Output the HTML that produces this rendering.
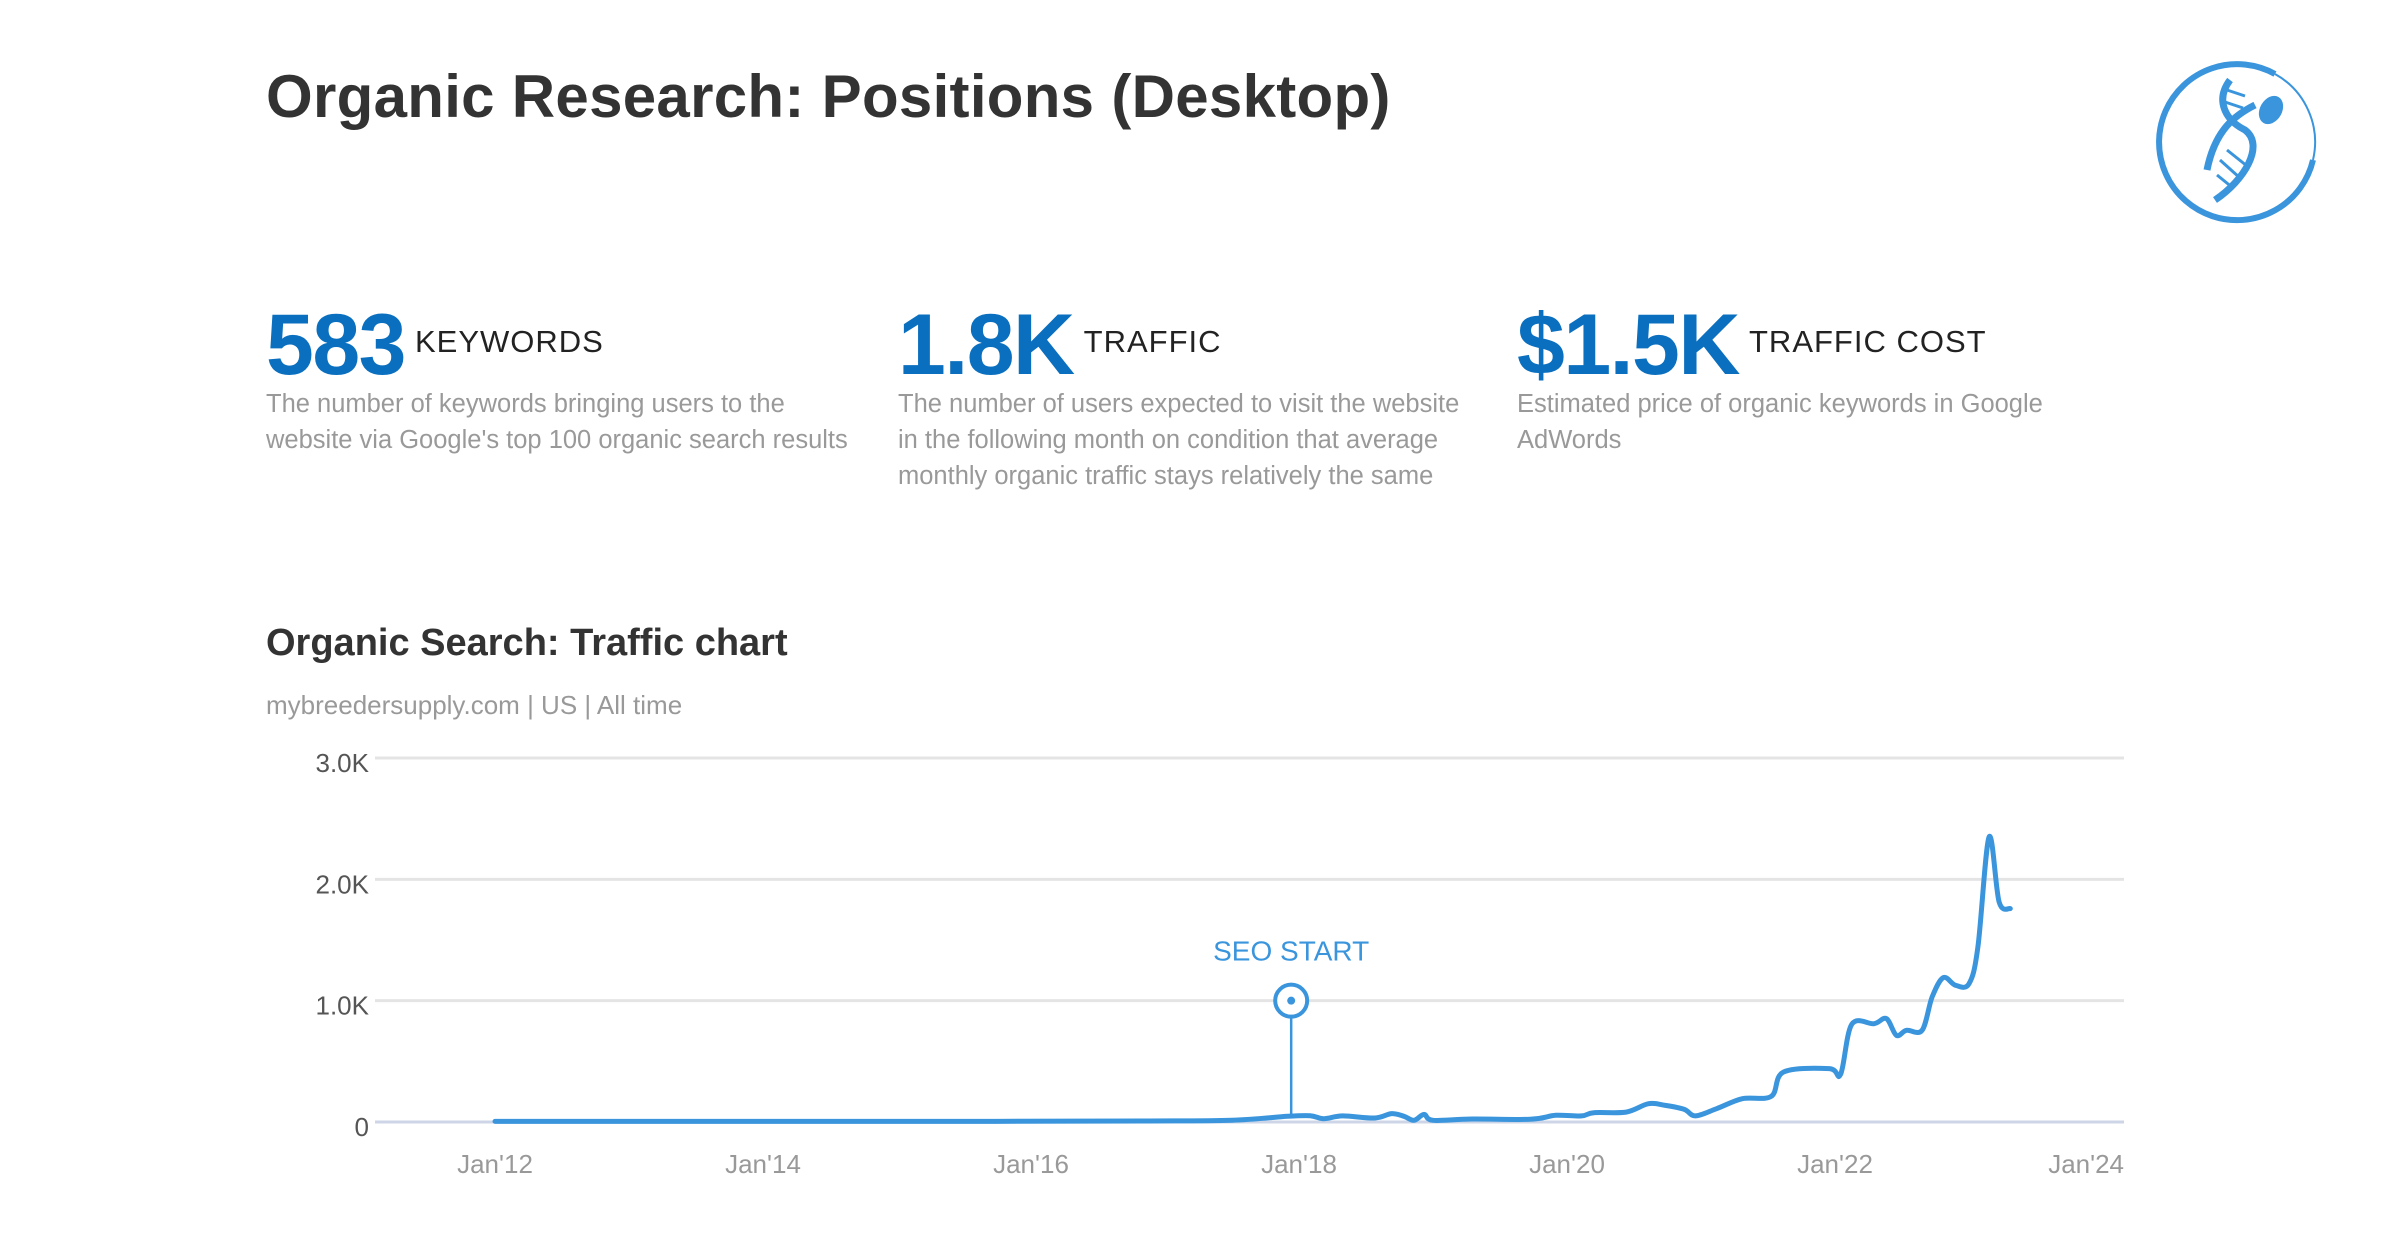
<!DOCTYPE html>
<html><head><meta charset="utf-8">
<style>
html,body{margin:0;padding:0;background:#fff;}
body{width:2400px;height:1260px;position:relative;overflow:hidden;font-family:"Liberation Sans",sans-serif;}
.abs{position:absolute;white-space:nowrap;}
.title{left:266px;top:62px;font-size:60px;font-weight:bold;color:#333;letter-spacing:0.3px;}
.num{font-size:86px;font-weight:bold;color:#0a6fbf;letter-spacing:-1.5px;}
.lab{font-size:31px;color:#222;letter-spacing:1px;margin-left:10px;position:relative;top:-22px;}
.kpi{top:296px;}
.desc{font-size:25.5px;color:#999;line-height:36px;top:386px;}
.sec{left:266px;top:622px;font-size:38px;font-weight:bold;color:#333;}
.sub{left:266px;top:690px;font-size:26px;color:#999;}
</style></head>
<body>
<div class="abs title">Organic Research: Positions (Desktop)</div>
<svg class="abs" style="left:2155px;top:60px" width="170" height="170" viewBox="0 0 170 170">
<path d="M120 14 A78 78 0 1 0 158 100" fill="none" stroke="#3a95dd" stroke-width="6"/>
<path d="M120 14 A78 78 0 0 1 158 100" fill="none" stroke="#3a95dd" stroke-width="2"/>
<path d="M100 45 C80 55 60 70 52 110" fill="none" stroke="#3a95dd" stroke-width="7"/>
<ellipse cx="116" cy="50" rx="11" ry="15" fill="#3a95dd" transform="rotate(30 116 50)"/>
<path d="M75 20 C60 40 70 60 90 70 C110 85 90 120 60 140" fill="none" stroke="#3a95dd" stroke-width="7"/>
<g stroke="#3a95dd" stroke-width="3"><line x1="72" y1="30" x2="90" y2="36"/><line x1="70" y1="42" x2="88" y2="48"/><line x1="65" y1="100" x2="85" y2="118"/><line x1="72" y1="90" x2="92" y2="106"/><line x1="62" y1="115" x2="78" y2="128"/></g>
</svg>

<div class="abs kpi" style="left:266px"><span class="num">583</span><span class="lab">KEYWORDS</span></div>
<div class="abs desc" style="left:266px">The number of keywords bringing users to the<br>website via Google's top 100 organic search results</div>
<div class="abs kpi" style="left:898px"><span class="num">1.8K</span><span class="lab">TRAFFIC</span></div>
<div class="abs desc" style="left:898px">The number of users expected to visit the website<br>in the following month on condition that average<br>monthly organic traffic stays relatively the same</div>
<div class="abs kpi" style="left:1517px"><span class="num">$1.5K</span><span class="lab">TRAFFIC COST</span></div>
<div class="abs desc" style="left:1517px">Estimated price of organic keywords in Google<br>AdWords</div>

<div class="abs sec">Organic Search: Traffic chart</div>
<div class="abs sub">mybreedersupply.com | US | All time</div>

<svg id="chart" class="abs" style="left:0;top:0" width="2400" height="1260"></svg>
<script>
const yTicks=[0,1000,2000,3000];
const yTickLabels=["0","1.0K","2.0K","3.0K"];
const xTickMonths=[0,24,48,72,96,120,144];
const xTickLabels=["Jan'12","Jan'14","Jan'16","Jan'18","Jan'20","Jan'22","Jan'24"];
const months=[0,20,40,58,66,71,73,74.2,75.9,78.8,80.3,81.4,82.3,83.2,84,87.5,92.7,95,97.3,98.4,101.3,103.3,104.8,106.5,107.5,109.4,111.7,114.3,115.4,119.5,120.5,121.5,123.5,124.6,125.5,126.4,127.8,128.7,129.7,130.8,132,132.8,133.8,134.7,135.7];
const traffic=[5,5,5,8,15,47,52,27,50,33,69,47,14,63,14,25,22,55,50,77,82,151,137,104,50,110,192,212,412,440,393,805,810,852,714,756,756,1030,1190,1127,1140,1443,2350,1814,1759];
const seoStartMonth=71.3, seoStartValue=1000;

const NS="http://www.w3.org/2000/svg";
const svg=document.getElementById('chart');
const X0=375,X1=2124;
const x=m=>495+m*(268/24);
const y=v=>1122-v*(364/3000);
function el(t,a,txt){const e=document.createElementNS(NS,t);for(const k in a)e.setAttribute(k,a[k]);if(txt!==undefined)e.textContent=txt;svg.appendChild(e);return e;}
yTicks.forEach((v,i)=>{
  const g=el('line',{x1:X0,x2:X1,y1:y(v),y2:y(v),stroke:v===0?'#cdd5e6':'#e4e4e4','stroke-width':3});
  
  
  const t=el('text',{x:369,y:y(v)+14,'text-anchor':'end','font-size':26,fill:'#555','font-family':'Liberation Sans, sans-serif'},yTickLabels[i]);
  
  
});
xTickMonths.forEach((m,i)=>{
  const last=i===xTickMonths.length-1;
  const t=el('text',{x:last?X1:x(m),y:1173,'text-anchor':last?'end':'middle','font-size':26,fill:'#999','font-family':'Liberation Sans, sans-serif'},xTickLabels[i]);
  
  
});
const pts=months.map((m,i)=>[x(m),y(traffic[i])]);
let d='M'+pts[0][0].toFixed(1)+' '+pts[0][1].toFixed(1);
for(let i=0;i<pts.length-1;i++){
  const p0=pts[Math.max(0,i-1)],p1=pts[i],p2=pts[i+1],p3=pts[Math.min(pts.length-1,i+2)];
  const c1=[p1[0]+(p2[0]-p0[0])/6,p1[1]+(p2[1]-p0[1])/6];
  const c2=[p2[0]-(p3[0]-p1[0])/6,p2[1]-(p3[1]-p1[1])/6];
  c1[0]=Math.min(Math.max(c1[0],p1[0]),p2[0]);c2[0]=Math.min(Math.max(c2[0],p1[0]),p2[0]);
  d+=' C'+c1.map(n=>n.toFixed(1)).join(' ')+' '+c2.map(n=>n.toFixed(1)).join(' ')+' '+p2.map(n=>n.toFixed(1)).join(' ');
}
const line=el('path',{d:d,fill:'none',stroke:'#3a95dd','stroke-width':5,'stroke-linejoin':'round','stroke-linecap':'round'});


const mx=x(seoStartMonth),my=y(seoStartValue);
const ml=el('line',{x1:mx,x2:mx,y1:my+17,y2:y(30),stroke:'#3a95dd','stroke-width':2.5});


const mc=el('circle',{cx:mx,cy:my,r:16,fill:'#fff',stroke:'#3a95dd','stroke-width':4});


el('circle',{cx:mx,cy:my,r:4,fill:'#3a95dd'});
const mt=el('text',{x:mx,y:my-40,'text-anchor':'middle','font-size':28,fill:'#3a95dd','font-family':'Liberation Sans, sans-serif'},'SEO START');


</script>
</body></html>
